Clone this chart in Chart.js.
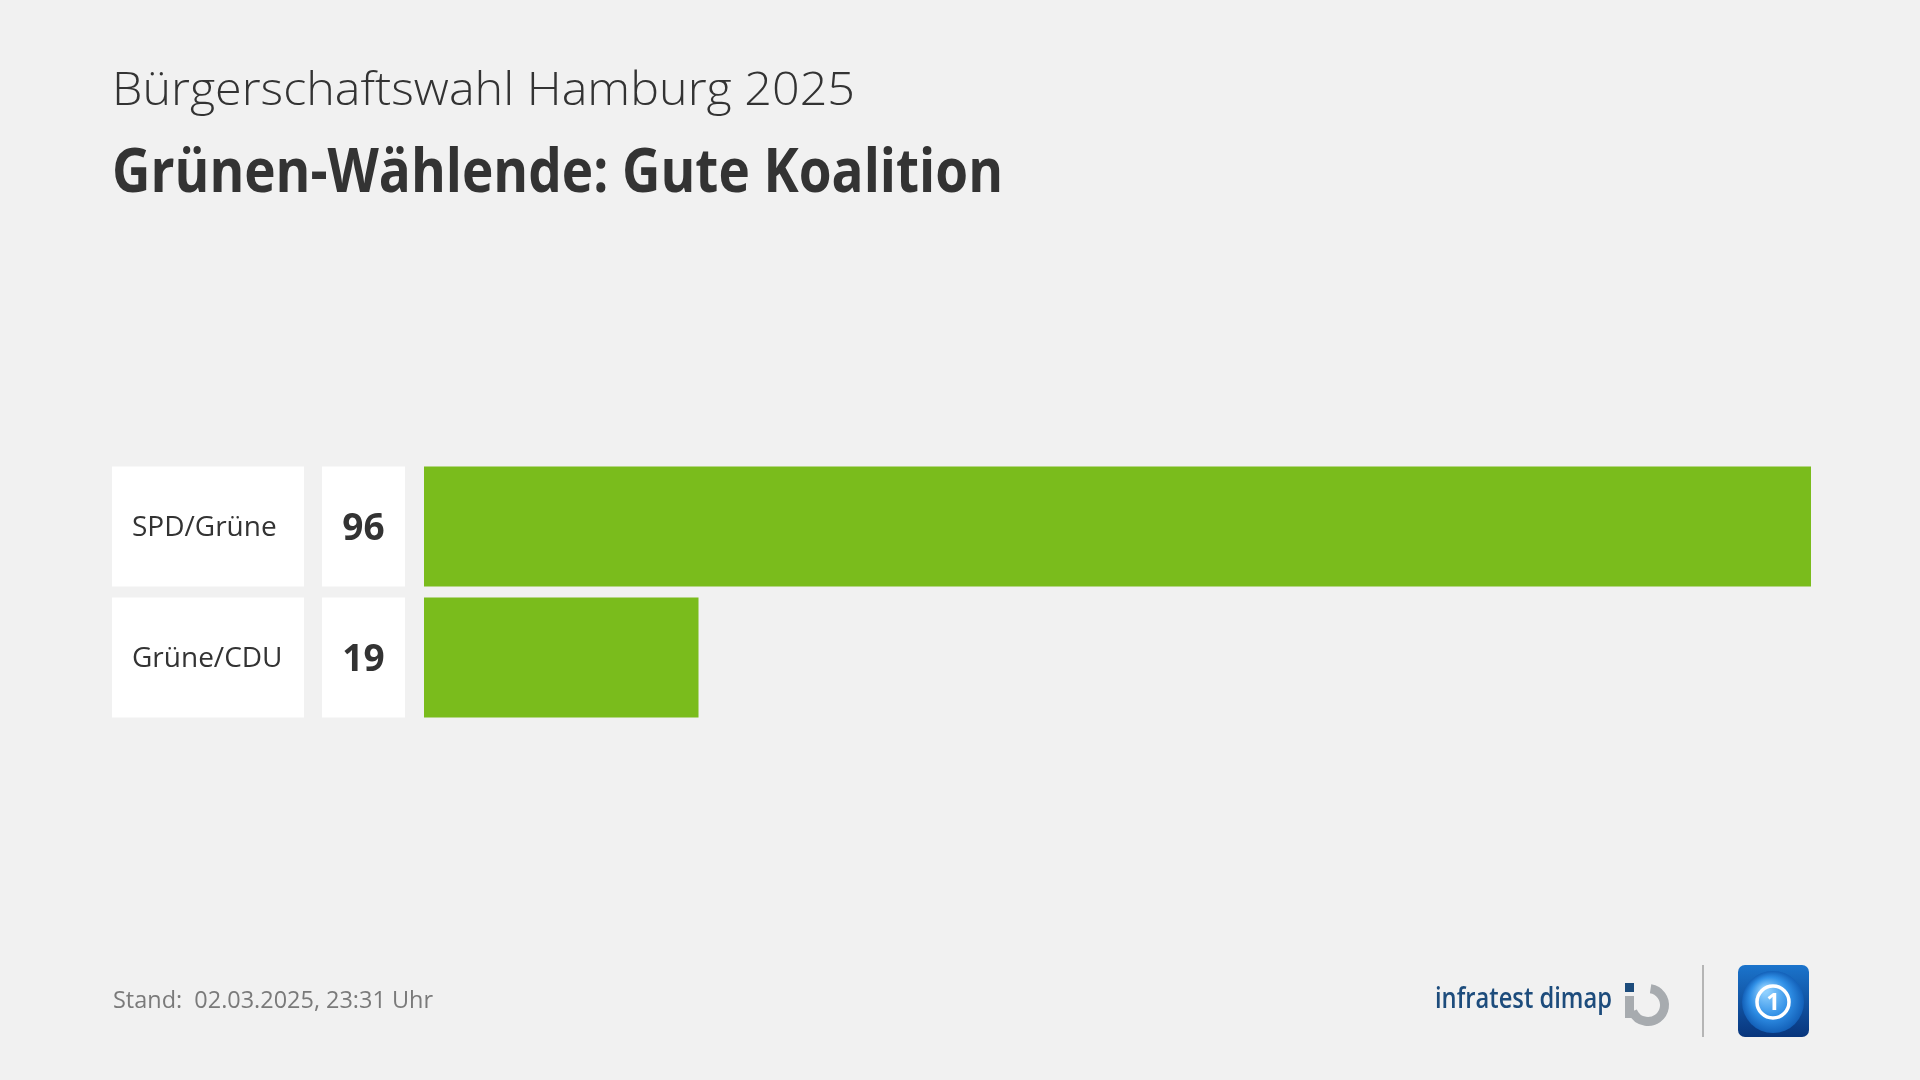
<!DOCTYPE html>
<html>
<head>
<meta charset="utf-8">
<style>
  html, body { margin: 0; padding: 0; background: #f1f1f1; }
  canvas { display: block; }
</style>
<script src="https://cdn.jsdelivr.net/npm/chart.js@4.4.1/dist/chart.umd.min.js"></script>
</head>
<body>
<canvas id="chart" width="1920" height="1080"></canvas>
<script>
// Daten
const categories = ['SPD/Grüne', 'Grüne/CDU'];
const values = [96, 19];
const subtitle = 'Bürgerschaftswahl Hamburg 2025';
const title = 'Grünen-Wählende: Gute Koalition';
const footer = 'Stand:  02.03.2025, 23:31 Uhr';

const FONT = '"Open Sans", "Noto Sans", sans-serif';
const BAR_COLOR = '#7abc1c';

// Text auf Zielbreite strecken/stauchen
function fitText(ctx, text, x, y, width) {
    const w = ctx.measureText(text).width;
    ctx.save();
    ctx.translate(x, y);
    ctx.scale(width / w, 1);
    ctx.fillText(text, 0, 0);
    ctx.restore();
}

const layoutPlugin = {
    id: 'layoutPlugin',
    beforeDraw(chart) {
        const ctx = chart.ctx;
        ctx.save();
        ctx.fillStyle = '#f1f1f1';
        ctx.fillRect(0, 0, chart.width, chart.height);
        ctx.restore();
    },
    afterDatasetsDraw(chart) {
        const ctx = chart.ctx;
        const meta = chart.getDatasetMeta(0);
        ctx.save();
        meta.data.forEach((bar, i) => {
            const top = bar.y - bar.height / 2;
            const h = bar.height;
            ctx.fillStyle = '#ffffff';
            ctx.fillRect(112, top, 192, h);
            ctx.fillRect(322, top, 83, h);
            ctx.fillStyle = '#333333';
            ctx.textBaseline = 'middle';
            ctx.textAlign = 'left';
            ctx.font = '400 28px ' + FONT;
            ctx.fillText(categories[i], 132, bar.y + 2);
            ctx.textAlign = 'center';
            ctx.font = '700 37px ' + FONT;
            ctx.fillText(String(values[i]), 363.5, bar.y + 3);
        });
        ctx.restore();
    },
    afterDraw(chart) {
        const ctx = chart.ctx;
        ctx.save();
        ctx.textAlign = 'left';
        ctx.textBaseline = 'alphabetic';
        ctx.fillStyle = '#333333';
        ctx.font = '300 46px ' + FONT;
        fitText(ctx, subtitle, 112, 105, 743);
        ctx.font = '700 60px ' + FONT;
        fitText(ctx, title, 112, 192, 891);

        ctx.fillStyle = '#7a7a7a';
        ctx.font = '400 23px ' + FONT;
        fitText(ctx, footer, 113, 1008, 320);

        // infratest dimap
        ctx.fillStyle = '#1d4c7c';
        ctx.font = '600 29px ' + FONT;
        fitText(ctx, 'infratest dimap', 1435, 1008, 177);
        ctx.fillStyle = '#1d4c7c';
        ctx.fillRect(1625, 983, 9, 9);
        ctx.strokeStyle = '#a7abaf';
        ctx.lineWidth = 9;
        ctx.beginPath();
        ctx.arc(1648, 1005, 16.5, -Math.PI * 0.45, Math.PI * 0.88);
        ctx.stroke();
        ctx.fillStyle = '#a7abaf';
        ctx.fillRect(1625, 996, 9, 22);

        // Trennlinie
        ctx.strokeStyle = '#b5b5b5';
        ctx.lineWidth = 2;
        ctx.beginPath();
        ctx.moveTo(1703, 965);
        ctx.lineTo(1703, 1037);
        ctx.stroke();

        // ARD-Logo
        ctx.save();
        const g = ctx.createLinearGradient(0, 965, 0, 1037);
        g.addColorStop(0, '#1b74cc');
        g.addColorStop(1, '#08357c');
        ctx.fillStyle = g;
        ctx.beginPath();
        ctx.roundRect(1738, 965, 71, 72, 7);
        ctx.fill();
        ctx.clip();
        const rg = ctx.createRadialGradient(1765, 990, 3, 1773, 1002, 31);
        rg.addColorStop(0, '#8fd0ff');
        rg.addColorStop(0.6, '#2f8fe6');
        rg.addColorStop(1, '#1360b8');
        ctx.fillStyle = rg;
        ctx.beginPath();
        ctx.arc(1773, 1002, 31, 0, Math.PI * 2);
        ctx.fill();
        ctx.restore();
        ctx.strokeStyle = '#ffffff';
        ctx.lineWidth = 3.5;
        ctx.beginPath();
        ctx.arc(1773, 1002, 16, 0, Math.PI * 2);
        ctx.stroke();
        ctx.fillStyle = '#ffffff';
        ctx.font = '700 24px ' + FONT;
        ctx.textAlign = 'center';
        ctx.textBaseline = 'middle';
        ctx.fillText('1', 1773, 1003);
        ctx.restore();
    }
};

new Chart(document.getElementById('chart'), {
    type: 'bar',
    data: {
        labels: categories,
        datasets: [{
            data: values,
            backgroundColor: BAR_COLOR,
            borderWidth: 0,
            barPercentage: 1,
            categoryPercentage: 120 / 131
        }]
    },
    options: {
        indexAxis: 'y',
        responsive: false,
        maintainAspectRatio: false,
        devicePixelRatio: 1,
        animation: false,
        layout: { padding: { left: 424, right: 109, top: 461, bottom: 357 } },
        plugins: {
            legend: { display: false },
            tooltip: { enabled: false }
        },
        scales: {
            x: { display: false, min: 0, max: 96 },
            y: { display: false }
        }
    },
    plugins: [layoutPlugin]
});
</script>
</body>
</html>
